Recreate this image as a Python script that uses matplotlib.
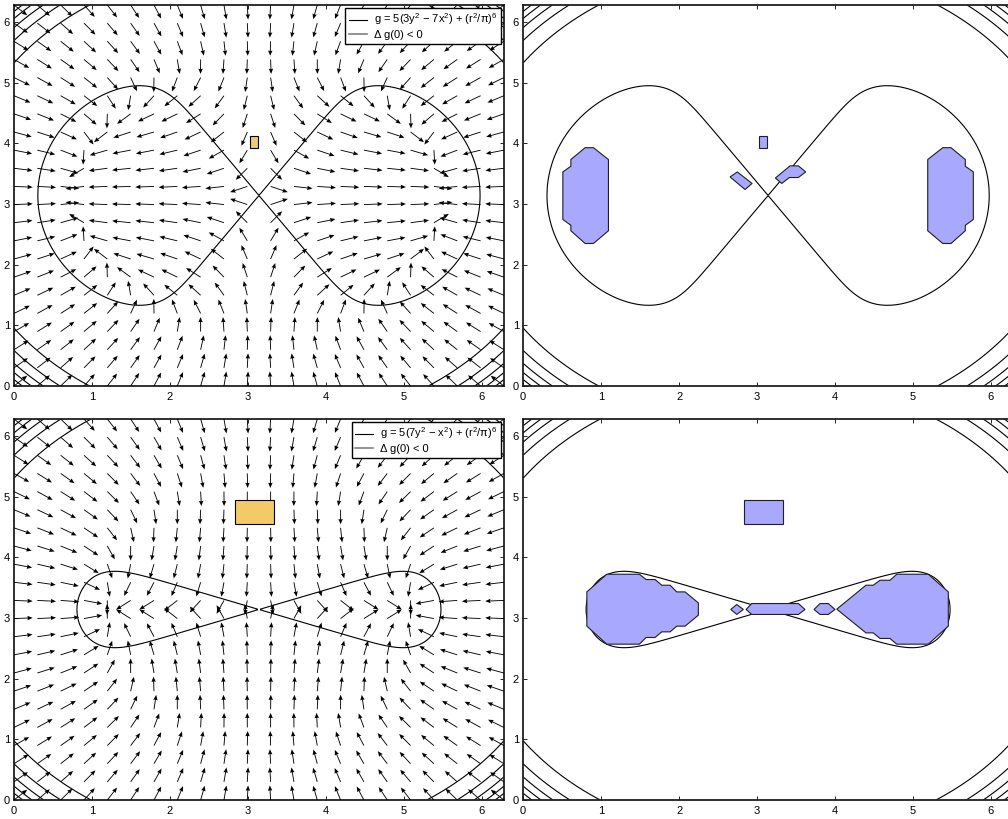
import numpy as np
import matplotlib.pyplot as plt
from matplotlib.lines import Line2D
from matplotlib.patches import Polygon, Rectangle

plt.rcParams['font.family'] = ['Liberation Sans', 'DejaVu Sans']
plt.rcParams['font.size'] = 8
plt.rcParams['mathtext.fontset'] = 'custom'
plt.rcParams['mathtext.rm'] = 'Liberation Sans'
plt.rcParams['mathtext.default'] = 'regular'

# g = 5(a*y^2 - b*x^2) + (r^2/pi)^6, centred on (pi, pi)
coef_top = (3, 7)
coef_bottom = (7, 1)
label_top = 'g = 5(3y$^2$ \u2212 7x$^2$) + (r$^2$/\u03c0)$^6$'
label_bottom = 'g = 5(7y$^2$ \u2212 x$^2$) + (r$^2$/\u03c0)$^6$'
label_delta = '\u0394 g(0) < 0'
levels = [0, 10000, 20000, 30000, 40000, 50000, 60000]
ticks = [0, 1, 2, 3, 4, 5, 6]

# cells where the test at step 0 fails: (x0, x1, y0, y1)
rect_top = (3.03, 3.13, 3.93, 4.12)
rect_bottom = (2.83, 3.33, 4.55, 4.94)

# regions where delta g < 0 on the coarse grid
regions_top = [
    [(0.795, 3.93), (0.901, 3.93), (1.094, 3.735), (1.094, 2.56), (0.901, 2.35),
     (0.795, 2.35), (0.612, 2.56), (0.612, 2.65), (0.509, 2.746), (0.509, 3.53),
     (0.612, 3.624), (0.612, 3.735)],
    [(5.488, 3.93), (5.382, 3.93), (5.189, 3.735), (5.189, 2.56), (5.382, 2.35),
     (5.488, 2.35), (5.671, 2.56), (5.671, 2.65), (5.774, 2.746), (5.774, 3.53),
     (5.671, 3.624), (5.671, 3.735)],
    [(2.654, 3.448), (2.747, 3.53), (2.936, 3.34), (2.846, 3.24)],
    [(3.235, 3.43), (3.423, 3.63), (3.53, 3.63), (3.624, 3.53), (3.53, 3.438),
     (3.414, 3.438), (3.317, 3.34)],
]
regions_bottom = [
    [(1.073, 3.723), (1.491, 3.723), (1.577, 3.636), (1.692, 3.636), (1.778, 3.542),
     (1.885, 3.542), (1.97, 3.432), (2.077, 3.432), (2.247, 3.25), (2.247, 3.048),
     (2.077, 2.867), (1.97, 2.867), (1.885, 2.773), (1.778, 2.773), (1.692, 2.68),
     (1.577, 2.68), (1.491, 2.57), (1.073, 2.57), (0.817, 2.867), (0.817, 3.432)],
    [(4.022, 3.147), (4.397, 3.542), (4.491, 3.542), (4.577, 3.624), (4.705, 3.624),
     (4.791, 3.723), (5.196, 3.723), (5.453, 3.432), (5.453, 2.867), (5.196, 2.57),
     (4.791, 2.57), (4.705, 2.664), (4.577, 2.664), (4.491, 2.756), (4.397, 2.756)],
    [(2.663, 3.142), (2.74, 3.224), (2.824, 3.142), (2.74, 3.06)],
    [(2.859, 3.142), (2.932, 3.24), (3.53, 3.24), (3.615, 3.142), (3.53, 3.06),
     (2.932, 3.06)],
    [(3.731, 3.142), (3.808, 3.24), (3.914, 3.24), (4.0, 3.142), (3.914, 3.06),
     (3.808, 3.06)],
]

orange = '#f2ca68'
blue = '#a8a8ff'


def g_field(X, Y, a, b):
    xc = X - np.pi
    yc = Y - np.pi
    r2 = xc**2 + yc**2
    return 5 * (a * yc**2 - b * xc**2) + (r2 / np.pi)**6


def g_grad(X, Y, a, b):
    xc = X - np.pi
    yc = Y - np.pi
    r2 = xc**2 + yc**2
    common = 12 * r2**5 / np.pi**6
    return -10 * b * xc + common * xc, 10 * a * yc + common * yc


def style_axes(ax):
    ax.set_xlim(0, 2 * np.pi)
    ax.set_ylim(0, 2 * np.pi)
    ax.set_xticks(ticks)
    ax.set_yticks(ticks)
    ax.tick_params(direction='in', top=True, right=True, length=3, width=0.6)
    ax.tick_params(axis='x', pad=4)
    ax.tick_params(axis='y', pad=3)
    for s in ax.spines.values():
        s.set_linewidth(1.3)
        s.set_color('#202020')


xs = np.linspace(0, 2 * np.pi, 400)
X, Y = np.meshgrid(xs, xs)
qs = np.linspace(0, 2 * np.pi, 22)
QX, QY = np.meshgrid(qs, qs)

fig = plt.figure(figsize=(10.08, 8.19), dpi=100)
w, h = 0.486, 0.4652
rows = [(0.5287, coef_top, label_top, rect_top, regions_top),
        (0.0232, coef_bottom, label_bottom, rect_bottom, regions_bottom)]

for bottom, (a, b), label, rect, regions in rows:
    G = g_field(X, Y, a, b)
    x0, x1, y0, y1 = rect

    # left: normalised descent directions
    ax = fig.add_axes([0.0139, bottom, w, h])
    ax.contour(X, Y, G, levels=levels, colors='k', linewidths=0.8)
    gx, gy = g_grad(QX, QY, a, b)
    n = np.hypot(gx, gy)
    ax.quiver(QX, QY, -gx / n, -gy / n, angles='xy', scale_units='xy',
              scale=1 / 0.24, width=0.0018, headwidth=5, headlength=6,
              headaxislength=5.5, color='k', zorder=3)
    ax.add_patch(Rectangle((x0, y0), x1 - x0, y1 - y0, facecolor=orange,
                           edgecolor='k', linewidth=0.8, zorder=4))
    handles = [Line2D([], [], color='k', linewidth=0.8),
               Line2D([], [], color='#808080', linewidth=1.2)]
    leg = ax.legend(handles, [label, label_delta], loc='upper right',
                    fancybox=False, framealpha=1, edgecolor='k',
                    borderaxespad=0.25, borderpad=0.35, labelspacing=0.2,
                    handlelength=1.6, handletextpad=0.6)
    leg.get_frame().set_linewidth(1.0)
    leg.set_zorder(5)
    style_axes(ax)

    # right: regions where delta g < 0
    ax = fig.add_axes([0.519, bottom, w, h])
    ax.contour(X, Y, G, levels=levels, colors='k', linewidths=0.8)
    for verts in regions:
        ax.add_patch(Polygon(verts, closed=True, facecolor=blue,
                             edgecolor='#202020', linewidth=0.8, zorder=3))
    ax.add_patch(Rectangle((x0, y0), x1 - x0, y1 - y0, facecolor=blue,
                           edgecolor='#202020', linewidth=0.8, zorder=3))
    style_axes(ax)

fig.savefig('out.png', dpi=100)
